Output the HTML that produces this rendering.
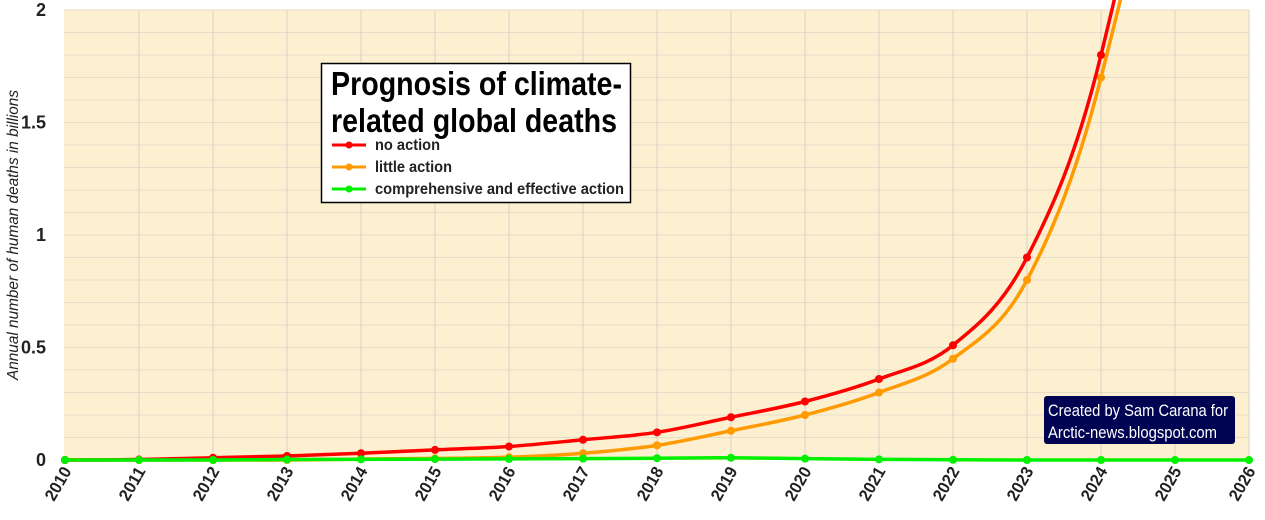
<!DOCTYPE html>
<html><head><meta charset="utf-8"><style>
body{margin:0;background:#fff;}
svg{display:block;font-family:"Liberation Sans Narrow","Liberation Sans",sans-serif;}
</style></head><body>
<svg id="chart" width="1265" height="520">
<defs><clipPath id="pc"><rect x="40" y="0" width="1225" height="475"/></clipPath></defs>
<rect x="64" y="10" width="1185" height="450" fill="#fdf0d0"/>
<g id="grid"></g>
<g id="yt"></g>
<g id="xt"></g>
<text transform="translate(18,235) rotate(-90)" text-anchor="middle" font-size="16" font-style="italic" fill="#222" textLength="290" lengthAdjust="spacingAndGlyphs">Annual number of human deaths in billions</text>
<g id="series" clip-path="url(#pc)"></g>
<g>
<rect x="321.5" y="63.5" width="309" height="139" fill="#fff" stroke="#000" stroke-width="1.5"/>
<text x="331" y="95" font-size="33" font-weight="bold" fill="#000" textLength="291" lengthAdjust="spacingAndGlyphs">Prognosis of climate-</text>
<text x="331" y="132" font-size="33" font-weight="bold" fill="#000" textLength="286" lengthAdjust="spacingAndGlyphs">related global deaths</text>
<g><line x1="332" y1="145" x2="366" y2="145" stroke="#f00" stroke-width="3"/><circle cx="349" cy="145" r="3.5" fill="#f00"/><text x="375" y="150" font-size="16" font-weight="bold" fill="#222" textLength="65" lengthAdjust="spacingAndGlyphs">no action</text></g>
<g><line x1="332" y1="167" x2="366" y2="167" stroke="#ff9a00" stroke-width="3"/><circle cx="349" cy="167" r="3.5" fill="#ff9a00"/><text x="375" y="172" font-size="16" font-weight="bold" fill="#222" textLength="77" lengthAdjust="spacingAndGlyphs">little action</text></g>
<g><line x1="332" y1="189" x2="366" y2="189" stroke="#00f000" stroke-width="3"/><circle cx="349" cy="189" r="3.5" fill="#00f000"/><text x="375" y="194" font-size="16" font-weight="bold" fill="#222" textLength="249" lengthAdjust="spacingAndGlyphs">comprehensive and effective action</text></g>
</g>
<g>
<rect x="1044" y="396" width="191" height="48" rx="3" fill="#000352"/>
<text x="1048" y="416" font-size="17" fill="#fff" textLength="180" lengthAdjust="spacingAndGlyphs">Created by Sam Carana for</text>
<text x="1048" y="438" font-size="17" fill="#fff" textLength="169" lengthAdjust="spacingAndGlyphs">Arctic-news.blogspot.com</text>
</g>
</svg>
<script>
const years=[2010,2011,2012,2013,2014,2015,2016,2017,2018,2019,2020,2021,2022,2023,2024,2025,2026];
const noAction=[0,0.002,0.01,0.018,0.03,0.045,0.06,0.09,0.123,0.19,0.26,0.36,0.51,0.90,1.80,3.6,7.2];
const littleAction=[0,0,0,0,0.004,0.007,0.012,0.03,0.065,0.13,0.2,0.3,0.45,0.8,1.7,3.4,6.8];
const effectiveAction=[0,0,0,0.002,0.003,0.004,0.005,0.006,0.008,0.01,0.006,0.003,0.001,0,0,0,0];
const yTicks=[0,0.5,1,1.5,2];
const yTickLabels=["0","0.5","1","1.5","2"];
const NS="http://www.w3.org/2000/svg";
const X0=65,DX=74,Y0=460,YS=225;
function xs(i){return X0+i*DX;}
function ys(v){return Y0-v*YS;}
function mk(t,a,p){const e=document.createElementNS(NS,t);for(const k in a)e.setAttribute(k,a[k]);p.appendChild(e);return e;}
const grid=document.getElementById('grid');
for(let k=1;k<=20;k++){const l=mk('line',{x1:64,x2:1249,y1:ys(k/10),y2:ys(k/10),stroke:'#e6dcc8','stroke-width':1},grid);

}
years.forEach((y,i)=>{if(i===0)return;const l=mk('line',{x1:xs(i),x2:xs(i),y1:10,y2:460,stroke:'#d6d0c6','stroke-width':1},grid);

});
const yt=document.getElementById('yt');
yTicks.forEach((v,i)=>{const t=mk('text',{x:46,y:ys(v)+6,'text-anchor':'end','font-size':18,'font-weight':'bold',fill:'#222'},yt);t.textContent=yTickLabels[i];

});
const xt=document.getElementById('xt');
years.forEach((y,i)=>{const t=mk('text',{transform:`translate(${xs(i)+7},471) rotate(-60)`,'text-anchor':'end','font-size':17,'font-weight':'bold',fill:'#222',textLength:36,lengthAdjust:'spacingAndGlyphs'},xt);t.textContent=y;

});
function path(vals){const p=vals.map((v,i)=>[xs(i),ys(v)]);let d=`M${p[0][0]},${p[0][1]}`;
for(let i=0;i<p.length-1;i++){const a=p[Math.max(0,i-1)],b=p[i],c=p[i+1],e=p[Math.min(p.length-1,i+2)];
d+=` C${b[0]+(c[0]-a[0])/6},${b[1]+(c[1]-a[1])/6} ${c[0]-(e[0]-b[0])/6},${c[1]-(e[1]-b[1])/6} ${c[0]},${c[1]}`;}return d;}
const sg=document.getElementById('series');
[[littleAction,'#ff9a00','little-action'],[noAction,'#f00','no-action'],[effectiveAction,'#00f000','effective-action']].forEach(([vals,col,nm])=>{
const g=mk('g',{},sg);


mk('path',{d:path(vals),fill:'none',stroke:col,'stroke-width':3.5},g);
vals.forEach((v,i)=>{if(ys(v)<5)return;const c=mk('circle',{cx:xs(i),cy:ys(v),r:4,fill:col},g);

});
});
</script>
</body></html>
